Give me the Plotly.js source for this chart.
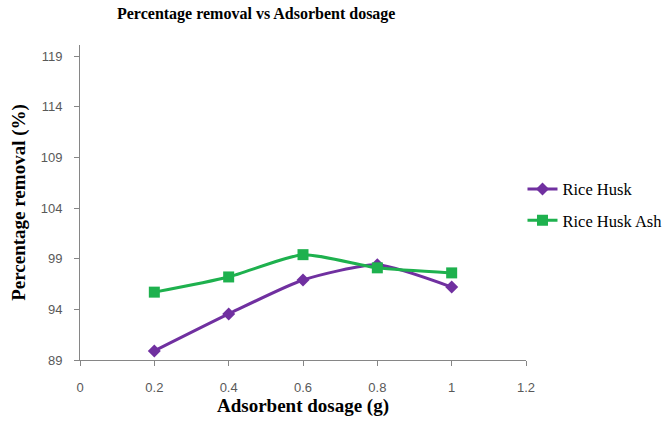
<!DOCTYPE html>
<html>
<head>
<meta charset="utf-8">
<script src="https://cdn.plot.ly/plotly-3.0.1.min.js"></script>
<style>html,body{margin:0;padding:0;background:#fff;}#chart{width:669px;height:422px;}</style>
</head>
<body>
<div id="chart"></div>
<script>
const dosage = [0.2, 0.4, 0.6, 0.8, 1.0];
const riceHusk = [89.9, 93.55, 96.9, 98.4, 96.2];
const riceHuskAsh = [95.7, 97.2, 99.4, 98.1, 97.6];
const yTicks = [89, 94, 99, 104, 109, 114, 119];
const xTicks = [0, 0.2, 0.4, 0.6, 0.8, 1, 1.2];
const xTickLabels = ['0', '0.2', '0.4', '0.6', '0.8', '1', '1.2'];

const serif = 'Liberation Serif, Times New Roman, serif';
const sans = 'Liberation Sans, Arial, sans-serif';

const traces = [
  {
    x: dosage, y: riceHusk, name: 'Rice Husk', type: 'scatter', mode: 'lines+markers',
    legendgroup: 'a',
    line: {color: '#7030A0', width: 3, shape: 'spline', smoothing: 0.6},
    marker: {symbol: 'diamond', size: 10, color: '#7030A0'}
  },
  {
    x: dosage, y: riceHuskAsh, name: 'Rice Husk Ash', type: 'scatter', mode: 'lines+markers',
    legendgroup: 'b',
    line: {color: '#1EB14E', width: 3, shape: 'spline', smoothing: 0.6},
    marker: {symbol: 'square', size: 11, color: '#1EB14E'}
  }
];

const layout = {
  width: 669, height: 422,
  paper_bgcolor: '#fff', plot_bgcolor: '#fff',
  margin: {l: 80, r: 143, t: 45, b: 61.5, pad: 0, autoexpand: false},
  title: {
    text: '<b>Percentage removal vs Adsorbent dosage</b>',
    font: {family: serif, size: 16, color: '#000'},
    xref: 'container', x: 0.383, xanchor: 'center',
    yref: 'container', y: 0.968, yanchor: 'middle'
  },
  xaxis: {
    range: [0, 1.2], tickvals: xTicks, ticktext: xTickLabels,
    showgrid: false, zeroline: false, showline: true, linecolor: '#868686', linewidth: 1,
    ticks: 'outside', ticklen: 5, tickcolor: '#868686', ticklabelstandoff: 10,
    tickfont: {family: sans, size: 13, color: '#595959'},
    title: {text: '<b>Adsorbent dosage (g)</b>', font: {family: serif, size: 19, color: '#000'}, standoff: 2}
  },
  yaxis: {
    range: [89, 120.1], tickvals: yTicks,
    showgrid: false, zeroline: false, showline: true, linecolor: '#868686', linewidth: 1,
    ticks: 'outside', ticklen: 5, tickcolor: '#868686', ticklabelstandoff: 9,
    tickfont: {family: sans, size: 13, color: '#595959'},
    title: {text: '<b>Percentage removal (%)</b>', font: {family: serif, size: 19, color: '#000'}, standoff: 10}
  },
  legend: {
    xref: 'container', yref: 'container',
    x: 0.781, xanchor: 'left', y: 0.515, yanchor: 'middle',
    font: {family: serif, size: 16.5, color: '#000'},
    bgcolor: 'rgba(0,0,0,0)', tracegroupgap: 7
  },
  showlegend: true
};

Plotly.newPlot('chart', traces, layout, {displayModeBar: false, staticPlot: true});
</script>
</body>
</html>
